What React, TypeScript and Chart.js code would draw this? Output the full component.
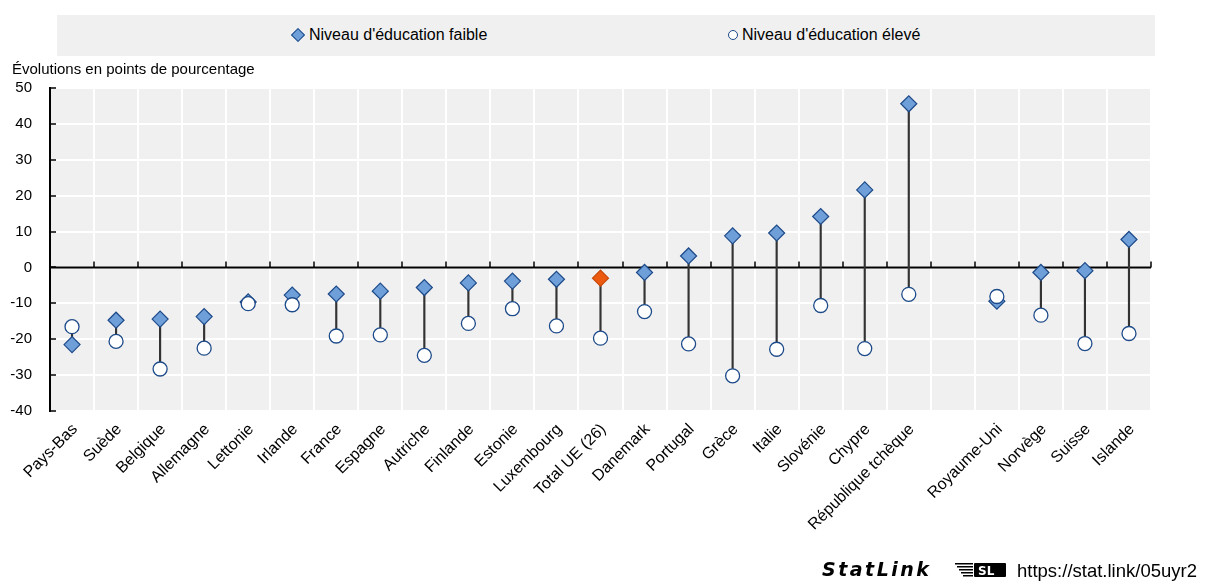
import React, { useEffect, useRef } from 'react';
import { Chart, registerables } from 'chart.js';

Chart.register(...registerables);

const categories = [
  'Pays-Bas', 'Suède', 'Belgique', 'Allemagne', 'Lettonie', 'Irlande', 'France', 'Espagne',
  'Autriche', 'Finlande', 'Estonie', 'Luxembourg', 'Total UE (26)', 'Danemark', 'Portugal',
  'Grèce', 'Italie', 'Slovénie', 'Chypre', 'République tchèque', '', 'Royaume-Uni', 'Norvège',
  'Suisse', 'Islande',
];
const lowEducation = [
  -21.5, -14.7, -14.4, -13.7, -9.6, -7.7, -7.4, -6.6, -5.6, -4.3, -3.8, -3.3, -3.0, -1.4, 3.2,
  8.8, 9.6, 14.2, 21.6, 45.6, null, -9.4, -1.4, -0.9, 7.8,
];
const highEducation = [
  -16.5, -20.6, -28.3, -22.5, -10.1, -10.4, -19.1, -18.8, -24.5, -15.6, -11.5, -16.3, -19.7,
  -12.3, -21.3, -30.2, -22.8, -10.6, -22.6, -7.5, null, -8.1, -13.3, -21.2, -18.4,
];
const highlightCategory = 'Total UE (26)';
const yMin = -40;
const yMax = 50;
const yStep = 10;

const FONT = "'Liberation Sans', Arial, sans-serif";
const BLUE_FILL = '#6f9fd8';
const BLUE_DARK = '#1d4a89';
const ORANGE = '#ec5a0f';

const decorPlugin = {
  id: 'decor',
  beforeDraw(chart: any) {
    const { ctx, chartArea: a } = chart;
    ctx.save();
    ctx.fillStyle = '#f0f0f0';
    ctx.fillRect(a.left, a.top, a.right - a.left, a.bottom - a.top);
    ctx.restore();
  },
  beforeDatasetsDraw(chart: any) {
    const { ctx, chartArea: a, scales } = chart;
    const y0 = scales.y.getPixelForValue(0);
    const step = scales.x.getPixelForValue(1) - scales.x.getPixelForValue(0);
    const first = scales.x.getPixelForValue(0) - step / 2;
    ctx.save();
    ctx.strokeStyle = '#000';
    ctx.lineWidth = 2;
    ctx.beginPath();
    ctx.moveTo(a.left, y0);
    ctx.lineTo(a.right, y0);
    ctx.stroke();
    ctx.lineWidth = 1.5;
    for (let i = 1; i <= categories.length; i++) {
      const px = Math.round(first + i * step);
      ctx.beginPath();
      ctx.moveTo(px, y0);
      ctx.lineTo(px, y0 - 6);
      ctx.stroke();
    }
    // inward ticks on the y axis
    for (let v = yMin; v <= yMax; v += yStep) {
      const py = Math.round(scales.y.getPixelForValue(v));
      ctx.beginPath();
      ctx.moveTo(a.left, py);
      ctx.lineTo(a.left + 6, py);
      ctx.stroke();
    }
    ctx.restore();
  },
};

function ChartView() {
  const ref = useRef<HTMLCanvasElement>(null);
  useEffect(() => {
    const canvas = ref.current;
    if (!canvas) return;
    const stems = categories.map((_, i) =>
      lowEducation[i] == null || highEducation[i] == null ? null : [lowEducation[i], highEducation[i]]
    );
    const chart = new Chart(canvas, {
      type: 'bar',
      data: {
        labels: categories,
        datasets: [
          {
            type: 'bar',
            label: 'stem',
            data: stems as any,
            backgroundColor: '#333333',
            borderWidth: 0,
            barThickness: 1.5,
            order: 3,
          },
          {
            type: 'line',
            label: "Niveau d'éducation faible",
            data: lowEducation as any,
            showLine: false,
            pointStyle: 'rectRot',
            pointRadius: 8,
            pointBorderWidth: 1.2,
            pointBackgroundColor: categories.map((c) => (c === highlightCategory ? ORANGE : BLUE_FILL)),
            pointBorderColor: categories.map((c) => (c === highlightCategory ? '#c94a0a' : BLUE_DARK)),
            order: 2,
          },
          {
            type: 'line',
            label: "Niveau d'éducation élevé",
            data: highEducation as any,
            showLine: false,
            pointStyle: 'circle',
            pointRadius: 7,
            pointBorderWidth: 1.3,
            pointBackgroundColor: '#ffffff',
            pointBorderColor: BLUE_DARK,
            order: 1,
          },
        ],
      },
      options: {
        animation: false,
        responsive: false,
        layout: { padding: { top: 88, right: 59, left: 0, bottom: 0 } },
        plugins: { legend: { display: false }, tooltip: { enabled: false } },
        scales: {
          x: {
            offset: true,
            grid: { color: '#ffffff', lineWidth: 2, offset: true, drawTicks: false },
            border: { display: false },
            ticks: {
              autoSkip: false,
              maxRotation: 45,
              minRotation: 45,
              padding: 9,
              labelOffset: 3,
              color: '#000',
              font: { family: FONT, size: 16 },
            },
            afterFit: (s: any) => {
              s.height = 175;
            },
          },
          y: {
            min: yMin,
            max: yMax,
            ticks: {
              stepSize: yStep,
              padding: 18,
              color: '#000',
              font: { family: FONT, size: 15 },
            },
            grid: { color: '#ffffff', lineWidth: 2, drawTicks: false },
            border: { display: true, color: '#000', width: 2 },
            afterFit: (s: any) => {
              s.width = 50;
            },
          },
        },
      },
      plugins: [decorPlugin],
    });
    return () => chart.destroy();
  }, []);
  return <canvas ref={ref} width={1210} height={586} style={{ display: 'block' }} />;
}

export default function App() {
  const text: React.CSSProperties = { position: 'absolute', fontFamily: FONT, color: '#000', whiteSpace: 'nowrap' };
  return (
    <div style={{ position: 'absolute', left: 0, top: 0, width: 1210, height: 586, background: '#fff', overflow: 'hidden' }}>
      <ChartView />
      <div style={{ position: 'absolute', left: 57, top: 15, width: 1098, height: 41, background: '#f0f0f0' }} />
      <div
        style={{
          position: 'absolute', left: 293, top: 30, width: 8, height: 8, background: BLUE_FILL,
          border: `1px solid ${BLUE_DARK}`, transform: 'rotate(45deg)',
        }}
      />
      <div style={{ ...text, left: 309, top: 25, fontSize: 16, lineHeight: '19px' }}>Niveau d'éducation faible</div>
      <div
        style={{
          position: 'absolute', left: 728, top: 30, width: 8, height: 8, borderRadius: '50%', background: '#fff',
          border: `1.5px solid ${BLUE_DARK}`,
        }}
      />
      <div style={{ ...text, left: 742, top: 25, fontSize: 16, lineHeight: '19px' }}>Niveau d'éducation élevé</div>
      <div style={{ ...text, left: 12, top: 60, fontSize: 15, lineHeight: '18px' }}>Évolutions en points de pourcentage</div>
      <div
        style={{
          ...text, left: 822, top: 558, fontSize: 19, lineHeight: '22px', fontFamily: "'DejaVu Sans', sans-serif",
          fontWeight: 'bold', fontStyle: 'italic', letterSpacing: '2.5px',
        }}
      >
        StatLink
      </div>
      <svg style={{ position: 'absolute', left: 955, top: 562 }} width={52} height={16} viewBox="0 0 52 16">
        <rect x={0} y={1} width={18} height={1.5} fill="#000" />
        <rect x={2} y={4} width={16} height={1.5} fill="#000" />
        <rect x={4} y={7} width={14} height={1.5} fill="#000" />
        <rect x={6} y={10} width={12} height={1.5} fill="#000" />
        <rect x={8} y={13} width={10} height={1.5} fill="#000" />
        <rect x={19} y={1} width={32} height={14} rx={1} fill="#000" />
        <text x={23} y={13} fontFamily="'DejaVu Sans', sans-serif" fontWeight="bold" fontSize={12} fill="#fff">SL</text>
      </svg>
      <div style={{ ...text, left: 1017, top: 560, fontSize: 18.5, lineHeight: '22px' }}>https://stat.link/05uyr2</div>
    </div>
  );
}
